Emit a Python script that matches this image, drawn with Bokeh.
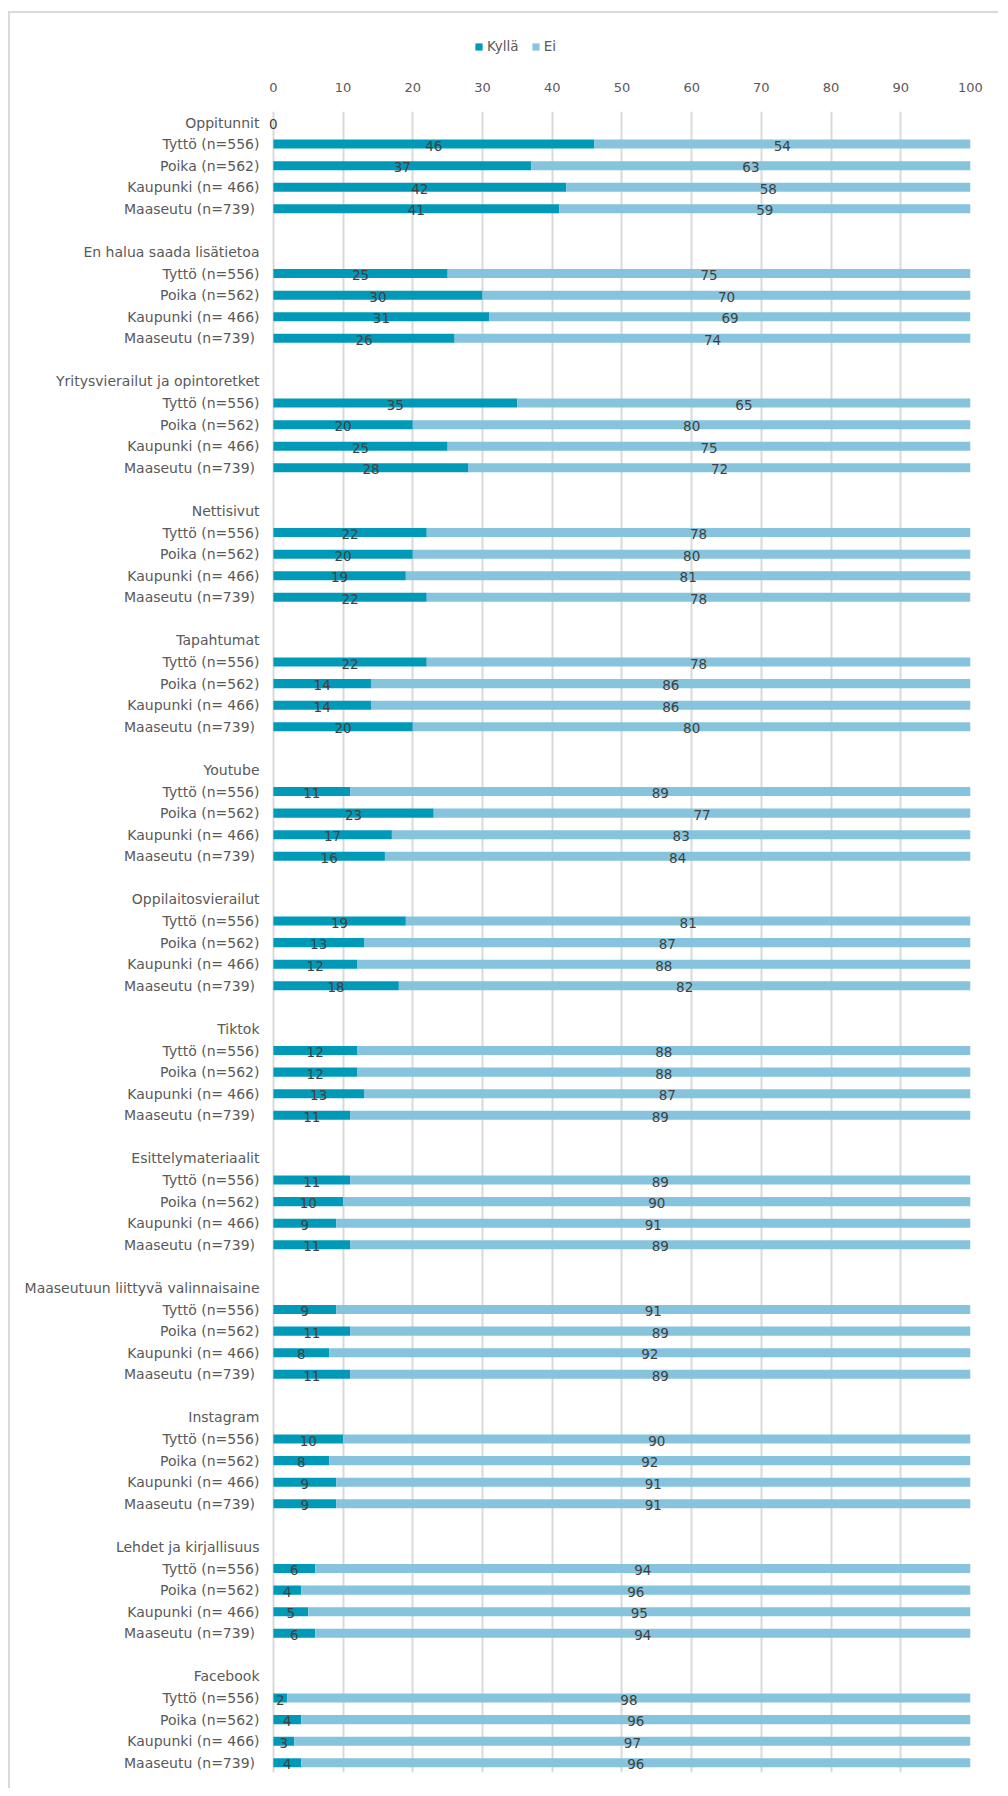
from bokeh.plotting import figure
from bokeh.layouts import column
from bokeh.models import ColumnDataSource, Range1d, FixedTicker, Legend, LegendItem, LabelSet
from bokeh.core.properties import value
from bokeh.embed import file_html
from bokeh.resources import INLINE

groups = ["Oppitunnit", "En halua saada lisätietoa", "Yritysvierailut ja opintoretket",
          "Nettisivut", "Tapahtumat", "Youtube", "Oppilaitosvierailut", "Tiktok",
          "Esittelymateriaalit", "Maaseutuun liittyvä valinnaisaine", "Instagram",
          "Lehdet ja kirjallisuus", "Facebook"]
subgroups = ["Tyttö (n=556)", "Poika (n=562)", "Kaupunki (n= 466)", "Maaseutu  (n=739)"]

kylla = [
    [46, 37, 42, 41],
    [25, 30, 31, 26],
    [35, 20, 25, 28],
    [22, 20, 19, 22],
    [22, 14, 14, 20],
    [11, 23, 17, 16],
    [19, 13, 12, 18],
    [12, 12, 13, 11],
    [11, 10, 9, 11],
    [9, 11, 8, 11],
    [10, 8, 9, 9],
    [6, 4, 5, 6],
    [2, 4, 3, 4],
]
ei = [
    [54, 63, 58, 59],
    [75, 70, 69, 74],
    [65, 80, 75, 72],
    [78, 80, 81, 78],
    [78, 86, 86, 80],
    [89, 77, 83, 84],
    [81, 87, 88, 82],
    [88, 88, 87, 89],
    [89, 90, 91, 89],
    [91, 89, 92, 89],
    [90, 92, 91, 91],
    [94, 96, 95, 94],
    [98, 96, 97, 96],
]
series_names = ["Kyllä", "Ei"]
header_value = 0  # value label shown on the first group header row
x_ticks = [0, 10, 20, 30, 40, 50, 60, 70, 80, 90, 100]

KYLLA_C = "#0099B8"
EI_C = "#86C3DC"
FONT = "DejaVu Sans"

ys, ks, es, ends, kmid, emid, ktxt, etxt = [], [], [], [], [], [], [], []
tick_pos, overrides = [], {}
for g, name in enumerate(groups):
    base = g * 6
    tick_pos.append(base)
    overrides[base] = name
    for s, sub in enumerate(subgroups):
        y = base + 1 + s
        tick_pos.append(y)
        overrides[y] = sub
        k = kylla[g][s]
        e = ei[g][s]
        ys.append(y); ks.append(k); es.append(e); ends.append(k + e)
        kmid.append(k / 2); emid.append(k + e / 2)
        ktxt.append(str(k)); etxt.append(str(e))

src = ColumnDataSource(dict(y=ys, k=ks, e=es, end=ends, kmid=kmid, emid=emid, ktxt=ktxt, etxt=etxt))
n_rows = len(groups) * 6 - 1

W = 988
LEG_H = 60

# ---- legend strip (top of the chart) ----
lg = figure(width=W, height=LEG_H, x_range=Range1d(0, 100), y_range=Range1d(1000, 1001),
            x_axis_type=None, y_axis_type=None, output_backend="svg", toolbar_location=None,
            min_border=0)
lg.outline_line_color = None
lg.xgrid.grid_line_color = None
lg.ygrid.grid_line_color = None
lr1 = lg.hbar(y="y", left=0, right="k", height=0.42, source=src, fill_color=KYLLA_C, line_color=None)
lr2 = lg.hbar(y="y", left="k", right="end", height=0.42, source=src, fill_color=EI_C, line_color=None)
legend = Legend(items=[LegendItem(label=series_names[0], renderers=[lr1]),
                       LegendItem(label=series_names[1], renderers=[lr2])],
                orientation="horizontal", location=(206, 19), padding=0, margin=0, spacing=12,
                glyph_width=9, glyph_height=9, label_standoff=4,
                label_text_font=FONT, label_text_font_size="13.5px", label_text_color="#595959",
                border_line_color=None, background_fill_alpha=0)
lg.add_layout(legend, "center")

# ---- main chart ----
X0 = -0.7  # small room left of zero so the header's "0" label is not clipped
p = figure(width=W, height=1715,
           x_range=Range1d(X0, 100), y_range=Range1d(n_rows - 1 + 0.45, -0.51),
           x_axis_location="above", output_backend="svg", toolbar_location=None,
           min_border_left=258, min_border_right=28, min_border_top=38, min_border_bottom=16)
p.outline_line_color = None
p.background_fill_color = "white"
p.border_fill_color = "white"

p.hbar(y="y", left=0, right="k", height=0.42, source=src, fill_color=KYLLA_C, line_color=None)
p.hbar(y="y", left="k", right="end", height=0.42, source=src, fill_color=EI_C, line_color=None)

lab_style = dict(text_align="center", text_baseline="middle", text_font=value(FONT),
                 text_font_size="13.5px", text_color="#404040", y_offset=-1.5)
p.add_layout(LabelSet(x="kmid", y="y", text="ktxt", source=src, **lab_style))
p.add_layout(LabelSet(x="emid", y="y", text="etxt", source=src, **lab_style))
hsrc = ColumnDataSource(dict(x=[header_value], y=[0], t=[str(header_value)]))
p.add_layout(LabelSet(x="x", y="y", text="t", source=hsrc, **lab_style))

p.xaxis.ticker = FixedTicker(ticks=x_ticks)
p.xaxis.axis_line_color = None
p.xaxis.major_tick_line_color = None
p.xaxis.minor_tick_line_color = None
p.xaxis.major_label_text_font = FONT
p.xaxis.major_label_text_font_size = "13px"
p.xaxis.major_label_text_color = "#595959"
p.xaxis.major_label_standoff = 14

p.yaxis.ticker = FixedTicker(ticks=tick_pos)
p.yaxis.major_label_overrides = overrides
p.yaxis.axis_line_color = None
p.yaxis.major_tick_line_color = None
p.yaxis.minor_tick_line_color = None
p.yaxis.major_label_text_font = FONT
p.yaxis.major_label_text_font_size = "14px"
p.yaxis.major_label_text_color = "#595959"
p.yaxis.major_label_standoff = 3

p.xgrid.grid_line_color = "#D9D9D9"
p.xgrid.grid_line_width = 2
p.ygrid.grid_line_color = None

layout = column(lg, p, spacing=0)
layout.styles = {"border-left": "2px solid #D9D9D9", "border-top": "2px solid #D9D9D9",
                 "margin-top": "11px", "margin-left": "8px"}

open("out.html", "w").write(file_html(layout, INLINE))
